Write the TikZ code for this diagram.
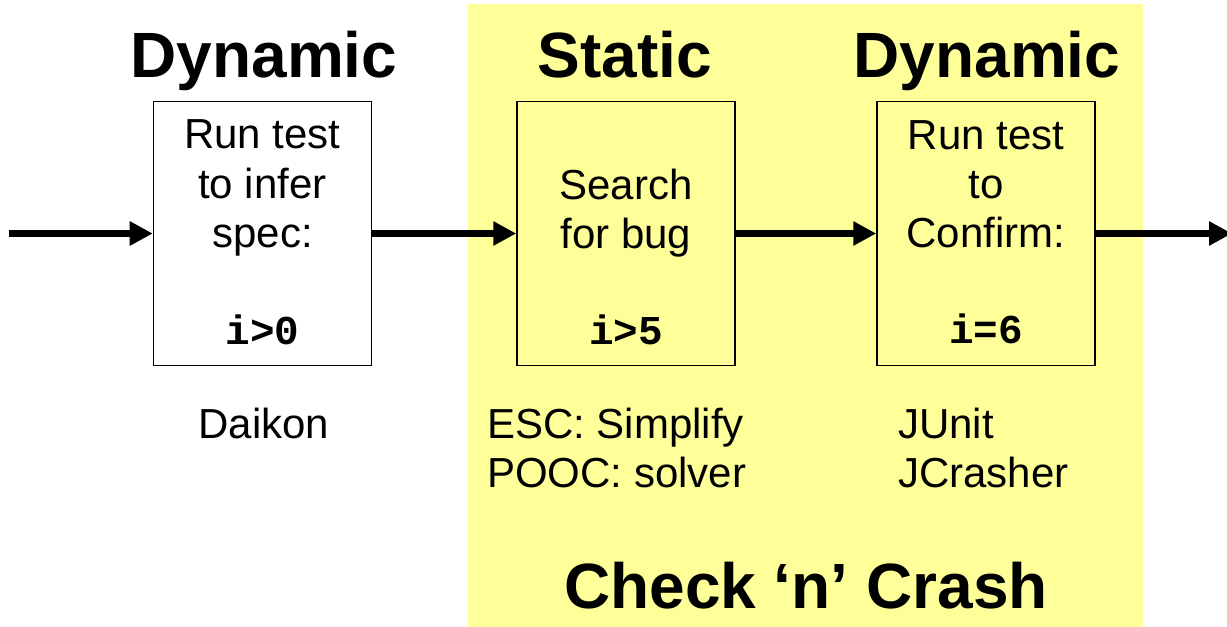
\documentclass[tikz,border=0pt]{standalone}
\usepackage{fontspec}
\setmainfont{Liberation Sans}
\setmonofont{Liberation Mono}
\usetikzlibrary{arrows.meta}
\definecolor{bgyellow}{HTML}{FFFF99}
\tikzset{
  titletext/.style={inner sep=0pt, anchor=base, font=\fontsize{64bp}{70bp}\selectfont\bfseries},
  bodytext/.style={inner sep=0pt, anchor=base, font=\fontsize{42bp}{49bp}\selectfont},
  leftbody/.style={bodytext, anchor=base west},
  codetext/.style={inner sep=0pt, anchor=base, font=\fontsize{41bp}{49bp}\selectfont\ttfamily\bfseries},
  stagebox/.style={draw=black, line width=1.5bp, minimum width=218bp, minimum height=264bp, inner sep=0pt},
  flowarrow/.style={line width=7bp, -{Triangle[length=23bp,width=23bp]}}
}
\begin{document}
\begin{tikzpicture}[x=1bp,y=-1bp]
\useasboundingbox (0,0) rectangle (1227,627);
\clip (0,0) rectangle (1227,627);
\fill[white] (0,0) rectangle (1227,627);
\fill[bgyellow] (467.5,4.5) rectangle (1143,630);

% boxes
\node[stagebox, fill=white] (b1) at (262.5,233.5) {};
\node[stagebox] (b2) at (626,233.5) {};
\node[stagebox] (b3) at (986,233.5) {};

% arrows
\coordinate (in) at (9,233.5);
\coordinate (out) at (1232,233.5);
\draw[flowarrow] (in) -- (b1.west);
\draw[flowarrow] (b1.east) -- (b2.west);
\draw[flowarrow] (b2.east) -- (b3.west);
\draw[flowarrow] (b3.east) -- (out);

% titles
\node[titletext] (t1) at (264,78) {Dynamic};
\node[titletext] (t2) at (625,78) {Static};
\node[titletext] (t3) at (987,78) {Dynamic};
\node[titletext] (t4) at (806,608) {Check ‘n’ Crash};

% box 1
\node[bodytext] (b1l1) at (262.5,149) {Run test};
\node[bodytext] (b1l2) at (262.5,199) {to infer};
\node[bodytext] (b1l3) at (262.5,248) {spec:};
\node[codetext] (b1c) at (262.5,345) {i>0};

% box 2
\node[bodytext] (b2l1) at (626,200) {Search};
\node[bodytext] (b2l2) at (626,249) {for bug};
\node[codetext] (b2c) at (626,345) {i>5};

% box 3
\node[bodytext] (b3l1) at (986,150) {Run test};
\node[bodytext] (b3l2) at (986,199) {to};
\node[bodytext] (b3l3) at (986,248) {Confirm:};
\node[codetext] (b3c) at (986,344) {i=6};

% tools
\node[bodytext] (daikon) at (264,438) {Daikon};
\node[leftbody] (esc) at (487,438) {ESC: Simplify};
\node[leftbody] (pooc) at (487,487) {POOC: solver};
\node[leftbody] (junit) at (898,438) {JUnit};
\node[leftbody] (jcr) at (898,487) {JCrasher};
\end{tikzpicture}
\end{document}
